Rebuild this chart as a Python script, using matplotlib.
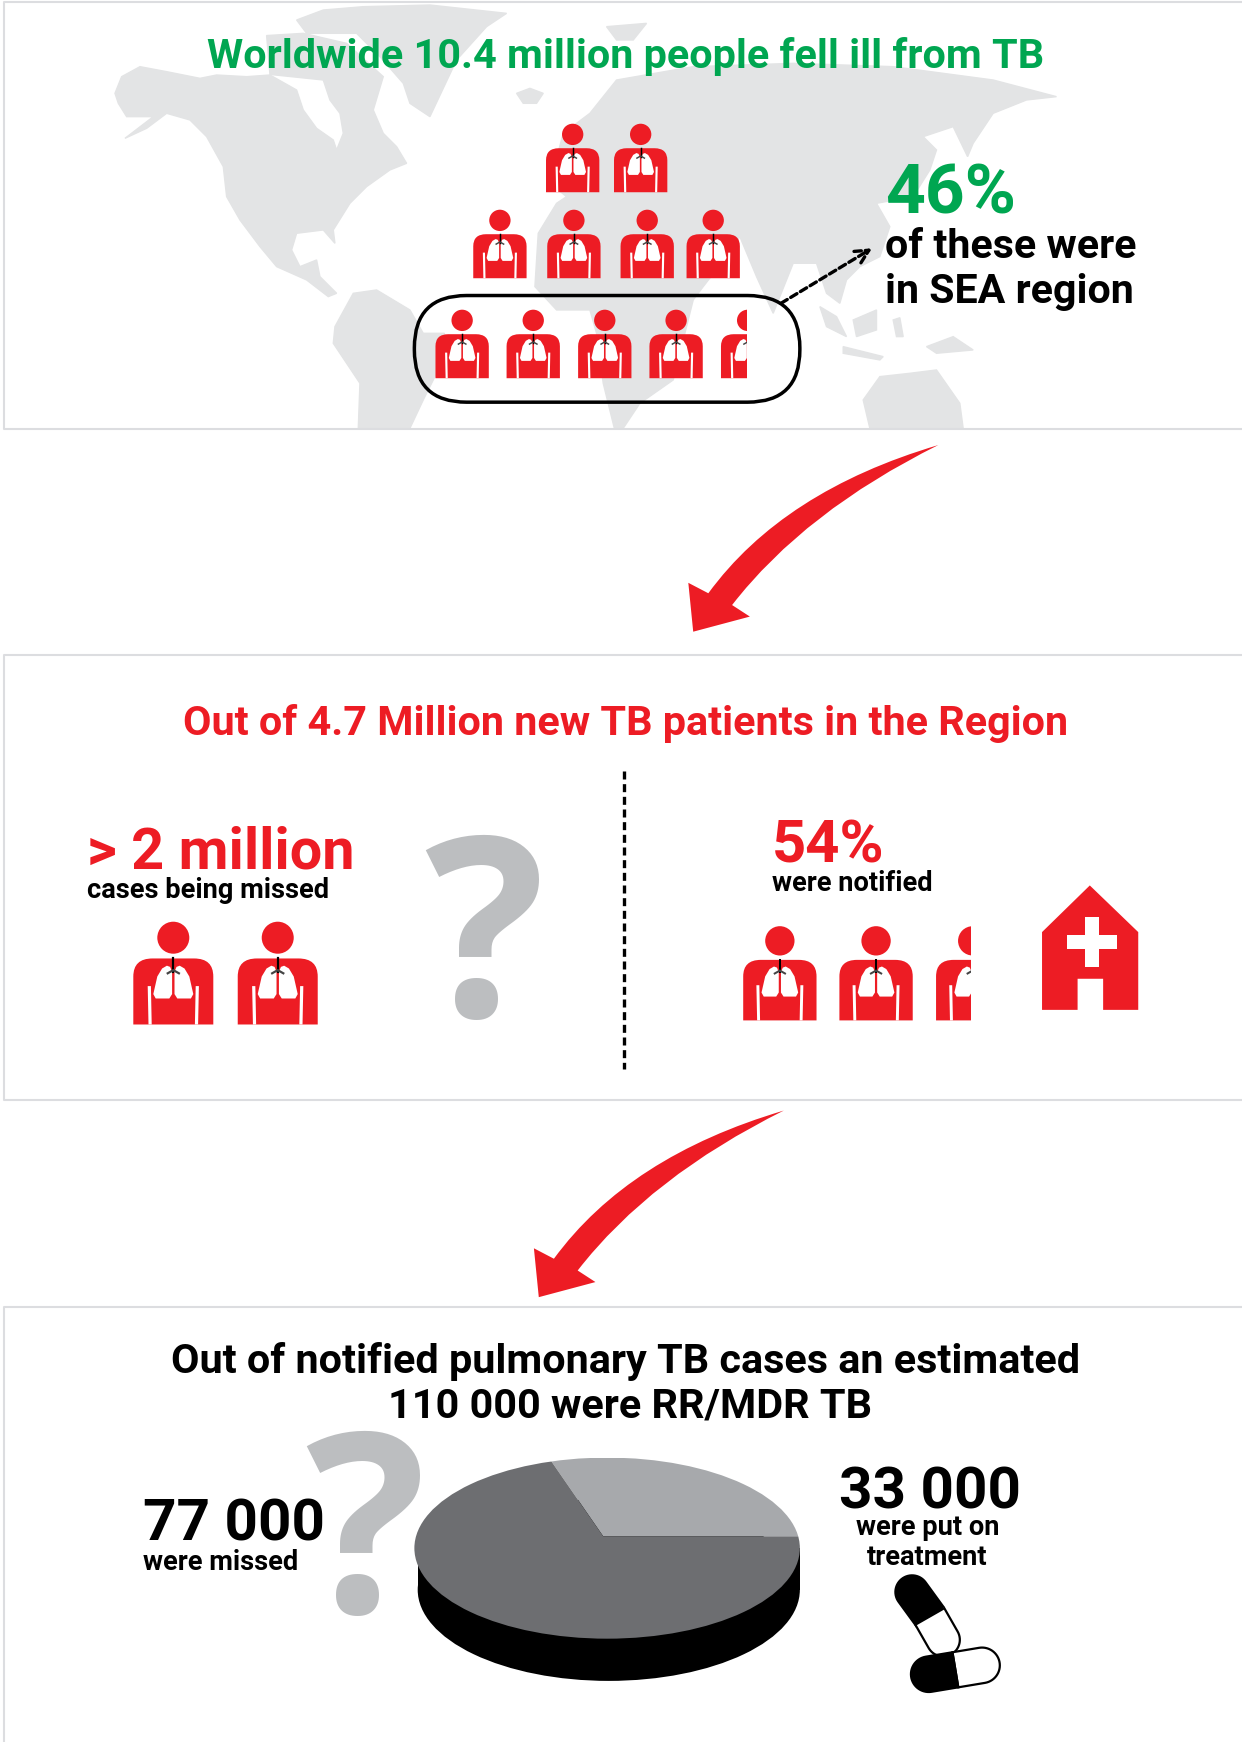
import numpy as np
import matplotlib
matplotlib.use("Agg")
import matplotlib.pyplot as plt
from matplotlib.patches import Circle, Ellipse, FancyBboxPatch, PathPatch, Polygon, Rectangle
from matplotlib.path import Path

RED = "#ed1c24"
GREEN = "#00a651"
MAP_GREY = "#e3e4e5"
Q_GREY = "#bcbec0"

# values
treated_vs_missed = [33000, 77000]
top_rows = [2, 4, 5]

title_world = "Worldwide 10.4 million people fell ill from TB"
pct_sea = "46%"
sea_lines = ["of these were", "in SEA region"]
title_region = "Out of 4.7 Million new TB patients in the Region"
missed_big = "> 2 million"
missed_small = "cases being missed"
notified_big = "54%"
notified_small = "were notified"
title_rr = ["Out of notified pulmonary TB cases an estimated", "110 000 were RR/MDR TB"]
rr_missed = ["77 000", "were missed"]
rr_treated = ["33 000", "were put on", "treatment"]

# rough map outlines
north_america = [(103.5, 84), (109.5, 69), (126, 60), (150, 64.5), (180, 70.5), (195, 67.5), (222, 69), (243, 67.5), (267, 81),
                 (273, 99), (285, 115.5), (300, 126), (303, 135), (309, 120), (306, 102), (297, 90), (291, 72), (312, 69),
                 (336, 99), (345, 120), (357, 132), (366, 147), (351, 153), (330, 168), (315, 183), (300, 207), (301.5, 219),
                 (291, 207), (267, 210), (262.5, 225), (270, 240), (285, 234), (288, 249), (303, 264), (295.5, 267), (276, 252),
                 (249, 240), (234, 222), (216, 198), (204, 177), (201, 150), (186, 123), (171, 108), (150, 102), (132, 115.5),
                 (112.5, 124.5), (138, 105), (114, 105), (106.5, 93)]
arctic = [(240, 32), (273, 30), (312, 39), (345, 69), (336, 99), (291, 72), (243, 67)]
greenland = [(267, 18), (291, 9), (327, 6), (387, 4.5), (456, 12), (438, 24), (411, 54), (387, 105), (369, 93), (363, 75),
             (342, 51), (321, 30), (276, 30)]
iceland = [(465, 84), (477, 79.5), (489, 84), (483, 93), (471, 93)]
south_america = [(301.5, 294), (318, 264), (339, 261), (369, 279), (381, 300), (400, 300), (396, 330), (381, 360), (369, 385.5),
                 (322.5, 385.5), (324, 345), (300, 309)]
eurasia_africa = [(531, 102), (555, 72), (624, 60), (714, 57), (804, 60), (894, 72), (951, 87), (924, 90), (894, 102), (876, 129),
                  (871, 141), (858, 114), (831, 123), (843, 135), (837, 153), (822, 177), (789, 183), (801, 204), (792, 231),
                  (774, 240), (762, 252), (756, 273), (744, 264), (735, 237), (714, 237), (696, 282), (681, 249), (666, 213),
                  (654, 231), (633, 258), (624, 270), (615, 306), (606, 342), (576, 363), (561, 385.5), (553, 385.5), (543, 345),
                  (537, 300), (531, 279), (501, 279), (481.5, 258), (484.5, 210), (501, 183), (510, 177), (495, 165), (507, 120)]
svalbard = [(546, 24), (582, 21), (570, 36), (555, 36)]
sumatra = [(738, 276), (753, 285), (762, 303), (744, 294)]
borneo = [(768, 288), (789, 279), (789, 297), (771, 303)]
new_guinea = [(834, 312), (858, 303), (876, 315), (843, 318)]
java = [(759, 312), (795, 321), (792, 324), (759, 318)]
philippines = [(804, 288), (810, 286), (813, 303), (807, 303)]
australia = [(777, 360), (792, 339), (819, 336), (843, 333), (864, 363), (867, 385.5), (783, 385.5)]


def draw_person(ax, cx, top, w, clip_x=None):
    u = lambda x, y: (cx + x * w, top + y * w)
    parts = []
    parts.append(ax.add_patch(Circle(u(0, 0.195), 0.2 * w, fc=RED, ec="none", zorder=3)))

    verts = [u(-0.5, 1.28), u(-0.5, 0.68), u(-0.5, 0.4545), u(-0.26, 0.4545), u(0.26, 0.4545), u(0.5, 0.4545),
             u(0.5, 0.68), u(0.5, 1.28), u(-0.5, 1.28)]
    codes = [Path.MOVETO, Path.LINETO, Path.CURVE3, Path.CURVE3, Path.LINETO, Path.CURVE3, Path.CURVE3, Path.LINETO,
             Path.CLOSEPOLY]
    parts.append(ax.add_patch(PathPatch(Path(verts, codes), fc=RED, ec="none", zorder=3)))

    for side in (-1, 1):
        # gap under the arm
        parts.append(ax.add_patch(Polygon([u(side * 0.32, 0.8), u(side * 0.28, 0.8), u(side * 0.27, 1.28), u(side * 0.31, 1.28)],
                                          fc="white", ec="none", zorder=4)))
        # lung
        lung = [u(side * 0.015, 0.62), u(side * 0.015, 0.9), u(side * 0.05, 0.955), u(side * 0.22, 0.955), u(side * 0.25, 0.9),
                u(side * 0.2, 0.68), u(side * 0.14, 0.58), u(side * 0.08, 0.545), u(side * 0.04, 0.56)]
        parts.append(ax.add_patch(Polygon(lung, fc="white", ec="none", zorder=4)))

    lw = max(w * 0.022, 0.8)
    parts += ax.plot(*zip(u(0, 0.45), u(0, 0.62)), color="black", lw=lw, zorder=5)
    parts += ax.plot(*zip(u(-0.07, 0.64), u(0, 0.6), u(0.07, 0.64)), color="#444444", lw=lw, zorder=5)

    if clip_x is not None:
        clip = Rectangle((cx - w, top - 5), clip_x - cx + w, 2 * w, transform=ax.transData)
        for p in parts:
            p.set_clip_path(clip)


def draw_arrow(ax, dx, dy):
    pts = [(844.6, 400.6), (704.9, 441.9), (637.6, 534), (619.6, 524.6), (624, 568.6), (675, 555), (659, 544.6),
           (724.2, 460.4), (844.6, 400.6)]
    pts = [(x + dx, y + dy) for x, y in pts]
    codes = [Path.MOVETO, Path.CURVE3, Path.CURVE3, Path.LINETO, Path.LINETO, Path.LINETO, Path.LINETO, Path.CURVE3, Path.CURVE3]
    ax.add_patch(PathPatch(Path(pts, codes), fc=RED, ec="none", zorder=3))


def half_pill(ax, p0, p1, r, fc):
    # flat at p0, round at p1
    p0, p1 = np.array(p0, float), np.array(p1, float)
    a = np.arctan2(*(p1 - p0)[::-1])
    t = np.linspace(a - np.pi / 2, a + np.pi / 2, 30)
    arc = np.c_[p1[0] + r * np.cos(t), p1[1] + r * np.sin(t)]
    n = np.array([-np.sin(a), np.cos(a)]) * r
    pts = np.vstack([p0 - n, arc, p0 + n])
    ax.add_patch(Polygon(pts, closed=True, fc=fc, ec="black", lw=1.6, zorder=6))


def main():
    fig = plt.figure(figsize=(12.42, 17.42), dpi=100)
    ax = fig.add_axes([0, 0, 1, 1])
    ax.set_xlim(0, 1118)
    ax.set_ylim(1568, 0)
    ax.axis("off")

    plt.rcParams["font.family"] = ["Roboto", "DejaVu Sans"]

    for shape in (north_america, arctic, greenland, iceland, south_america, eurasia_africa, svalbard, sumatra, borneo,
                  new_guinea, java, philippines, australia):
        ax.add_patch(Polygon(shape, fc=MAP_GREY, ec=MAP_GREY, lw=1, zorder=1))

    # panel borders
    for xs, ys in [([1118, 4, 4, 1118], [2, 2, 386, 386]), ([1118, 4, 4, 1118], [590, 590, 990, 990]),
                   ([1118, 4, 4], [1176, 1176, 1568])]:
        ax.plot(xs, ys, color="#dcdde0", lw=1.5, zorder=2)

    def txt(x, y, s, size, color="black", ha="left"):
        ax.text(x, y, s, fontsize=size, color=color, ha=ha, va="baseline", fontweight="bold", zorder=8)

    # top panel
    txt(563, 61, title_world, 29.8, GREEN, "center")
    row_x = [[515.5, 576.7], [450, 516.6, 582.6, 642], [416, 480, 544.4, 608.6, 673]]
    row_top = [111.6, 189, 279]
    for n, xs, top in zip(top_rows, row_x, row_top):
        for i in range(n):
            clip = 672.5 if n == 5 and i == 4 else None
            draw_person(ax, xs[i], top, 48, clip)
    ax.add_patch(FancyBboxPatch((373, 266), 347, 96, boxstyle="round,pad=0,rounding_size=47", fc="none", ec="black",
                                lw=2.5, zorder=4))
    ax.annotate("", xy=(785, 223.5), xytext=(703, 273),
                arrowprops=dict(arrowstyle="->", color="black", lw=2.4, linestyle=(0, (2.2, 1.2)), shrinkA=0, shrinkB=0,
                                mutation_scale=24), zorder=5)
    txt(797, 192, pct_sea, 50, GREEN)
    txt(797, 232, sea_lines[0], 29.6)
    txt(797, 273, sea_lines[1], 29.6)

    draw_arrow(ax, 0, 0)

    # middle panel
    txt(563, 662, title_region, 29.8, RED, "center")
    txt(78, 782, missed_big, 41.5, RED)
    txt(78, 808, missed_small, 19.6)
    draw_person(ax, 156, 830, 72)
    draw_person(ax, 250, 830, 72)
    ax.text(436, 915, "?", fontsize=181, color=Q_GREY, ha="center", va="baseline", fontweight="bold",
            family="Open Sans", zorder=2)
    ax.plot([562, 562], [694, 962], color="black", lw=2.4, linestyle=(0, (2.4, 1.4)), zorder=3)
    txt(695, 776, notified_big, 43, RED)
    txt(695, 802, notified_small, 19.6)
    for cx, clip in [(702, None), (788.6, None), (875.6, 874)]:
        draw_person(ax, cx, 834, 66, clip)
    house = [(981, 797), (1024.6, 839), (1024.6, 909), (993, 909), (993, 881), (970, 881), (970, 909), (938, 909), (938, 839)]
    ax.add_patch(Polygon(house, fc=RED, ec="none", zorder=3))
    ax.add_patch(Rectangle((976.6, 825.5), 12.4, 45, fc="white", ec="none", zorder=4))
    ax.add_patch(Rectangle((960.6, 841.8), 44.8, 12.2, fc="white", ec="none", zorder=4))

    draw_arrow(ax, -139, 599)

    # bottom panel
    txt(563, 1236, title_rr[0], 29.8, "black", "center")
    txt(567, 1276, title_rr[1], 29.8, "black", "center")
    ax.text(329, 1452, "?", fontsize=181, color=Q_GREY, ha="center", va="baseline", fontweight="bold",
            family="Open Sans", zorder=2)
    txt(129, 1387, rr_missed[0], 42)
    txt(129, 1413, rr_missed[1], 19.6)
    txt(755, 1358, rr_treated[0], 42)
    txt(835, 1382, rr_treated[1], 19.6, "black", "center")
    txt(835, 1409, rr_treated[2], 19.6, "black", "center")

    # pie side
    ax.add_patch(Ellipse((548, 1431), 344, 164, fc="black", ec="none", zorder=4))
    ax.add_patch(Rectangle((376, 1393), 344, 38, fc="black", ec="none", zorder=4))

    # pie top, squashed into its own axes
    left, right, top, bottom = 373, 720, 1312, 1475
    pax = fig.add_axes([left / 1118, 1 - bottom / 1568, (right - left) / 1118, (bottom - top) / 1568], zorder=5)
    wedges, _ = pax.pie(treated_vs_missed, colors=["#a7a9ac", "#6d6e71"], startangle=0, counterclock=True,
                        center=(-0.02, 0.13), radius=3, frame=True)
    pax.set_xlim(-1, 1)
    pax.set_ylim(-1, 1)
    pax.set_aspect("auto")
    pax.axis("off")
    pax.patch.set_alpha(0)
    oval = Ellipse((0, 0), 2, 2, transform=pax.transData)
    for w in wedges:
        w.set_clip_on(True)
        w.set_clip_path(oval)

    # pills
    ax2 = fig.add_axes([0, 0, 1, 1], zorder=6)
    ax2.set_xlim(0, 1118)
    ax2.set_ylim(1568, 0)
    ax2.axis("off")
    ax2.patch.set_alpha(0)
    half_pill(ax2, (837, 1455), (821, 1433), 15, "black")
    half_pill(ax2, (837, 1455), (849, 1476), 15, "white")
    half_pill(ax2, (860, 1503), (884, 1499), 16, "white")
    half_pill(ax2, (860, 1503), (836, 1507), 16, "black")

    fig.savefig("out.png", dpi=100, facecolor="white")


if __name__ == "__main__":
    main()
